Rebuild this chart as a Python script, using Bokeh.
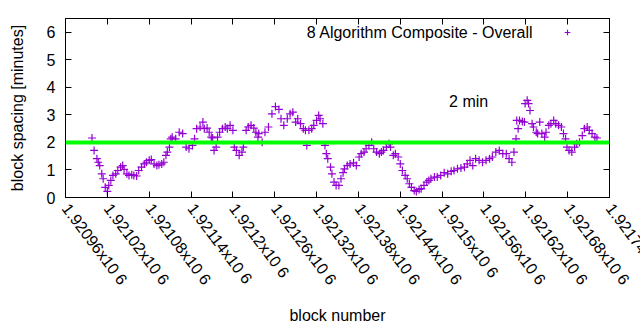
import math
from bokeh.plotting import figure
from bokeh.models import (Range1d, FixedTicker, LinearAxis, Span, Label,
                          Legend, LegendItem, ColumnDataSource)
from bokeh.embed import file_html
from bokeh.resources import INLINE

# ---- data ----
blocks = [
    1920998, 1921001, 1921005, 1921007, 1921009, 1921012, 1921014, 1921017, 1921020, 1921022,
    1921025, 1921028, 1921032, 1921035, 1921039, 1921042, 1921044, 1921048, 1921051, 1921055,
    1921058, 1921062, 1921065, 1921069, 1921073, 1921076, 1921080, 1921083, 1921087, 1921091,
    1921094, 1921098, 1921101, 1921104, 1921106, 1921109, 1921111, 1921113,
    1921118, 1921123, 1921128, 1921133, 1921137, 1921142, 1921145, 1921148, 1921153, 1921157,
    1921159, 1921163, 1921166, 1921169, 1921171, 1921173, 1921176, 1921178, 1921181, 1921185,
    1921189, 1921192, 1921196, 1921200, 1921202, 1921205, 1921209, 1921213, 1921215, 1921219,
    1921222, 1921226, 1921230, 1921233, 1921236,
    1921237, 1921242, 1921246, 1921251, 1921256, 1921261, 1921266, 1921269, 1921273, 1921278,
    1921282, 1921286, 1921290, 1921293, 1921297, 1921301, 1921304, 1921306, 1921309, 1921313,
    1921316, 1921320, 1921323, 1921325, 1921329, 1921332, 1921334, 1921336, 1921340, 1921342,
    1921345, 1921348, 1921352, 1921355, 1921358, 1921360,
    1921364, 1921368, 1921373, 1921377, 1921381, 1921384, 1921388, 1921391, 1921395, 1921399,
    1921402, 1921406, 1921410, 1921413, 1921416, 1921420, 1921424, 1921426, 1921430, 1921433,
    1921437, 1921440, 1921443, 1921447, 1921450, 1921453, 1921456, 1921460, 1921463, 1921467,
    1921470, 1921474, 1921478, 1921481, 1921484,
    1921489, 1921493, 1921498, 1921503, 1921508, 1921513, 1921517, 1921522, 1921527, 1921532,
    1921536, 1921540, 1921544, 1921548, 1921553, 1921558, 1921563, 1921568, 1921572, 1921577,
    1921582, 1921587, 1921592, 1921596, 1921600, 1921603, 1921606, 1921607,
    1921609, 1921611, 1921615, 1921618, 1921619, 1921622, 1921624, 1921626, 1921629, 1921631,
    1921635, 1921637, 1921640, 1921643, 1921647, 1921649, 1921653, 1921656, 1921660, 1921663,
    1921667, 1921671, 1921674, 1921677, 1921679, 1921682, 1921686, 1921690, 1921693, 1921697,
    1921701, 1921704, 1921708, 1921711, 1921715, 1921719, 1921722,
]
spacing_minutes = [
    2.16, 1.71, 1.41, 1.28, 1.16, 0.86, 0.68, 0.37, 0.22, 0.44,
    0.62, 0.80, 0.86, 0.98, 1.10, 1.16, 1.02, 0.86, 0.80, 0.83,
    0.80, 0.78, 0.98, 1.10, 1.22, 1.28, 1.35, 1.38, 1.22, 1.16,
    1.19, 1.22, 1.28, 1.53, 1.65, 1.83, 2.13, 2.19,
    2.13, 2.37, 2.32, 1.83, 1.77, 1.89, 2.13, 2.50, 2.56, 2.74,
    2.50, 2.52, 2.37, 2.19, 2.16, 1.71, 1.83, 2.19, 2.37, 2.50,
    2.56, 2.50, 2.62, 2.44, 1.83, 1.71, 1.53, 1.65, 1.83, 2.44,
    2.56, 2.62, 2.52, 2.37, 2.19,
    2.32, 2.01, 2.37, 2.56, 3.04, 3.30, 3.20, 2.86, 2.62, 2.86,
    3.04, 3.10, 2.74, 2.86, 2.68, 2.50, 2.44, 1.89, 2.44, 2.50,
    2.62, 2.80, 2.98, 2.86, 2.68, 1.89, 1.59, 1.41, 1.10, 0.86,
    0.56, 0.44, 0.44, 0.68, 0.90, 1.04,
    1.16, 1.22, 1.26, 1.16, 1.47, 1.59, 1.65, 1.77, 1.89, 2.01,
    1.77, 1.65, 1.59, 1.65, 1.71, 1.83, 1.95, 1.83, 1.53, 1.59,
    1.47, 1.22, 0.98, 0.80, 0.68, 0.50, 0.37, 0.25, 0.22, 0.29,
    0.32, 0.44, 0.56, 0.62, 0.68,
    0.74, 0.74, 0.80, 0.90, 0.86, 0.95, 0.98, 1.04, 1.07, 1.10,
    1.22, 1.35, 1.16, 1.41, 1.35, 1.28, 1.35, 1.41, 1.47, 1.65,
    1.71, 1.59, 1.59, 1.41, 1.28, 1.65, 2.13, 2.80,
    2.50, 2.80, 2.76, 2.74, 3.41, 3.53, 3.41, 3.16, 2.68, 2.56,
    2.37, 2.32, 2.74, 2.32, 2.19, 2.37, 2.62, 2.68, 2.80, 2.68,
    2.62, 2.56, 2.32, 2.13, 1.83, 1.71, 1.65, 1.83, 1.95, 2.01,
    2.25, 2.50, 2.56, 2.44, 2.32, 2.19, 2.16,
]
target_minutes = 2.0
series_name = "8 Algorithm Composite - Overall"
target_label = "2 min"
target_label_pos = (1921510, 3.5)

x_ticks = [1920960, 1921020, 1921080, 1921140, 1921200, 1921260, 1921320,
           1921380, 1921440, 1921500, 1921560, 1921620, 1921680, 1921740]
x_tick_labels = ["1.92096x10 6", "1.92102x10 6", "1.92108x10 6", "1.92114x10 6",
                 "1.9212x10 6", "1.92126x10 6", "1.92132x10 6", "1.92138x10 6",
                 "1.92144x10 6", "1.9215x10 6", "1.92156x10 6", "1.92162x10 6",
                 "1.92168x10 6", "1.92174x10 6"]
y_ticks = [0, 1, 2, 3, 4, 5, 6]

FONT = "Liberation Sans"
FS = "16px"
PURPLE = "#9400d3"
TICK_ANGLE = -53 * math.pi / 180

p = figure(width=640, height=330, output_backend="svg", toolbar_location=None,
           x_range=Range1d(1920960, 1921740), y_range=Range1d(0, 6.5),
           min_border_left=65, min_border_right=31, min_border_top=18,
           min_border_bottom=133)
p.grid.visible = False
p.outline_line_color = "black"
p.outline_line_width = 1
p.background_fill_color = "white"
p.border_fill_color = "white"

src = ColumnDataSource(dict(x=blocks, y=spacing_minutes))
r = p.scatter("x", "y", source=src, marker="cross", size=8,
              line_color=PURPLE, line_width=1.2)

# Bokeh nudges the first and last label of the tick list back inside the
# canvas; list two middle ticks at the ends so the edge label may run off
# the right edge as in the reference.
mid_a, mid_b = x_ticks[7], x_ticks[8]
tick_order = [mid_a] + [t for t in x_ticks if t not in (mid_a, mid_b)] + [mid_b]

xa = p.xaxis[0]
xa.ticker = FixedTicker(ticks=tick_order)
xa.major_label_overrides = {t: l for t, l in zip(x_ticks, x_tick_labels)}
xa.major_label_orientation = TICK_ANGLE
xa.axis_label = "block number"
ya = p.yaxis[0]
ya.ticker = FixedTicker(ticks=y_ticks)
ya.axis_label = "block spacing [minutes]"
for ax in (xa, ya):
    ax.major_tick_in = 6
    ax.major_tick_out = 0
    ax.minor_tick_line_color = None
    ax.axis_line_color = "black"
    ax.major_label_text_font = FONT
    ax.major_label_text_font_size = FS
    ax.major_label_text_color = "black"
    ax.axis_label_text_font = FONT
    ax.axis_label_text_font_size = FS
    ax.axis_label_text_font_style = "normal"
    ax.axis_label_text_color = "black"
xa.major_label_standoff = 8
xa.axis_label_standoff = 11
ya.major_label_standoff = 10
ya.axis_label_standoff = 18

for side, tk in (("right", y_ticks), ("above", x_ticks)):
    m = LinearAxis(ticker=FixedTicker(ticks=tk), major_tick_in=6, major_tick_out=0,
                   minor_tick_line_color=None, major_label_text_font_size="1px",
                   major_label_text_color=None, major_label_standoff=0,
                   axis_line_color="black")
    p.add_layout(m, side)

p.add_layout(Span(location=target_minutes, dimension="width",
                  line_color="#00ff00", line_width=4))

p.add_layout(Label(x=target_label_pos[0], y=target_label_pos[1], text=target_label,
                   text_font=FONT, text_font_size=FS, text_align="left",
                   text_baseline="middle", text_color="black"))

p.add_layout(Label(x=468, y=165, x_units="screen", y_units="screen", text=series_name,
                   text_font=FONT, text_font_size=FS, text_align="right",
                   text_baseline="middle", text_color="black"))

leg = Legend(items=[LegendItem(label=" ", renderers=[r])], location=(495, 158),
             padding=0, margin=0, spacing=0, glyph_width=14, glyph_height=14,
             label_width=0, label_standoff=0, label_text_font_size="1px",
             border_line_color=None, background_fill_alpha=0)
p.add_layout(leg)

open("out.html", "w").write(file_html(p, INLINE))
